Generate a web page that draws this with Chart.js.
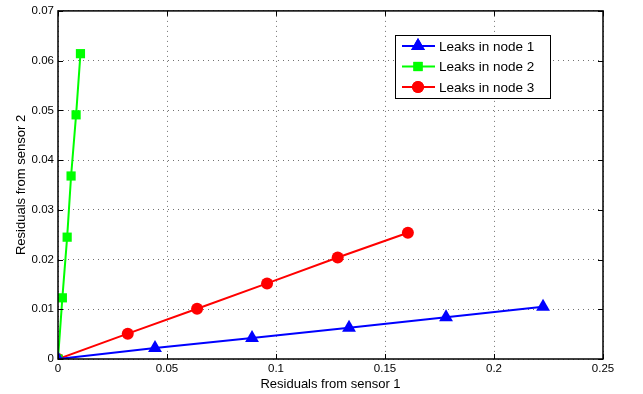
<!DOCTYPE html>
<html><head><meta charset="utf-8">
<script src="https://cdn.jsdelivr.net/npm/chart.js@4/dist/chart.umd.min.js"></script>
<style>html,body{margin:0;padding:0;background:#fff}#wrap{width:643px;height:394px}</style>
</head><body><div id="wrap"><canvas id="c" width="643" height="394"></canvas></div>
<script>
const seriesLabels = ["Leaks in node 1", "Leaks in node 2", "Leaks in node 3"];
const node1X = [0, 0.0445, 0.089, 0.1335, 0.178, 0.2225];
const node1Y = [0, 0.0022, 0.0042, 0.0063, 0.0084, 0.0105];
const node2X = [0, 0.002, 0.0042, 0.006, 0.0083, 0.0103];
const node2Y = [0, 0.0123, 0.0245, 0.0368, 0.0491, 0.0614];
const node3X = [0, 0.032, 0.0638, 0.0959, 0.1283, 0.1605];
const node3Y = [0, 0.0051, 0.0101, 0.0152, 0.0204, 0.0254];
const xTicks = [0, 0.05, 0.1, 0.15, 0.2, 0.25];
const yTicks = [0, 0.01, 0.02, 0.03, 0.04, 0.05, 0.06, 0.07];
const xTitle = "Residuals from sensor 1";
const yTitle = "Residuals from sensor 2";

const pts = (xs, ys) => xs.map((x, i) => ({x, y: ys[i]}));
const FONT = "'Liberation Sans', Arial, sans-serif";

const boxPlugin = {
  id: 'box',
  afterDraw(chart) {
    const {ctx, chartArea: a, scales} = chart;
    ctx.save();
    ctx.strokeStyle = '#000';
    ctx.lineWidth = 1.5;
    ctx.strokeRect(a.left, a.top, a.right - a.left, a.bottom - a.top);
    ctx.lineWidth = 1;
    xTicks.forEach(v => {
      const px = Math.round(scales.x.getPixelForValue(v)) + 0.5;
      ctx.beginPath(); ctx.moveTo(px, a.bottom); ctx.lineTo(px, a.bottom - 5);
      ctx.moveTo(px, a.top); ctx.lineTo(px, a.top + 5); ctx.stroke();
    });
    yTicks.forEach(v => {
      const py = Math.round(scales.y.getPixelForValue(v)) + 0.5;
      ctx.beginPath(); ctx.moveTo(a.left, py); ctx.lineTo(a.left + 5, py);
      ctx.moveTo(a.right, py); ctx.lineTo(a.right - 5, py); ctx.stroke();
    });
    // legend
    const lx = 395, ly = 35, lw = 155, lh = 63;
    ctx.fillStyle = '#fff';
    ctx.fillRect(lx, ly, lw, lh);
    ctx.strokeStyle = '#000'; ctx.lineWidth = 1;
    ctx.strokeRect(lx + 0.5, ly + 0.5, lw, lh);
    ctx.font = '13.5px ' + FONT;
    ctx.textBaseline = 'middle';
    chart.data.datasets.forEach((ds, i) => {
      const cy = ly + 11 + i * 20.5;
      ctx.strokeStyle = ds.borderColor; ctx.lineWidth = 2;
      ctx.beginPath(); ctx.moveTo(lx + 7, cy); ctx.lineTo(lx + 40, cy); ctx.stroke();
      ctx.fillStyle = ds.backgroundColor;
      Chart.helpers.drawPoint(ctx, {pointStyle: ds.pointStyle, radius: ds.pointRadius, rotation: 0, borderWidth: 0}, lx + 23, cy);
      ctx.fill();
      ctx.fillStyle = '#000';
      ctx.fillText(ds.label, lx + 44, cy + 1);
    });
    ctx.restore();
  }
};

new Chart(document.getElementById('c'), {
  type: 'scatter',
  data: {
    datasets: [
      {label: seriesLabels[0], data: pts(node1X, node1Y), showLine: true, borderColor: '#0000ff', backgroundColor: '#0000ff', borderWidth: 2, pointStyle: 'triangle', pointRadius: 8, pointBorderWidth: 0},
      {label: seriesLabels[1], data: pts(node2X, node2Y), showLine: true, borderColor: '#00ff00', backgroundColor: '#00ff00', borderWidth: 2, pointStyle: 'rect', pointRadius: 6.5, pointBorderWidth: 0},
      {label: seriesLabels[2], data: pts(node3X, node3Y), showLine: true, borderColor: '#ff0000', backgroundColor: '#ff0000', borderWidth: 2, pointStyle: 'circle', pointRadius: 6, pointBorderWidth: 0}
    ]
  },
  options: {
    responsive: false,
    animation: false,
    layout: {padding: {left: 0, right: 40, top: 5, bottom: 0}},
    plugins: {legend: {display: false}, tooltip: {enabled: false}},
    scales: {
      x: {
        type: 'linear', min: 0, max: 0.25,
        afterBuildTicks: s => { s.ticks = xTicks.map(v => ({value: v})); },
        afterFit: s => { s.height = 35; },
        ticks: {color: '#000', font: {family: FONT, size: 11.5}, padding: 3, maxRotation: 0,
                callback: v => String(+v.toFixed(2))},
        grid: {color: 'rgba(0,0,0,0.55)', drawTicks: false, lineWidth: 1},
        border: {display: false, dash: [1, 4]},
        title: {display: true, text: xTitle, color: '#000', font: {family: FONT, size: 13}, padding: {top: 2, bottom: 2}}
      },
      y: {
        type: 'linear', min: 0, max: 0.07,
        afterBuildTicks: s => { s.ticks = yTicks.map(v => ({value: v})); },
        afterFit: s => { s.width = 58; },
        ticks: {color: '#000', font: {family: FONT, size: 11.5}, padding: 4,
                callback: v => String(+v.toFixed(2))},
        grid: {color: 'rgba(0,0,0,0.55)', drawTicks: false, lineWidth: 1},
        border: {display: false, dash: [1, 4]},
        title: {display: true, text: yTitle, color: '#000', font: {family: FONT, size: 13}, padding: {top: 14, bottom: 0}}
      }
    }
  },
  plugins: [boxPlugin]
});
</script>
</body></html>
